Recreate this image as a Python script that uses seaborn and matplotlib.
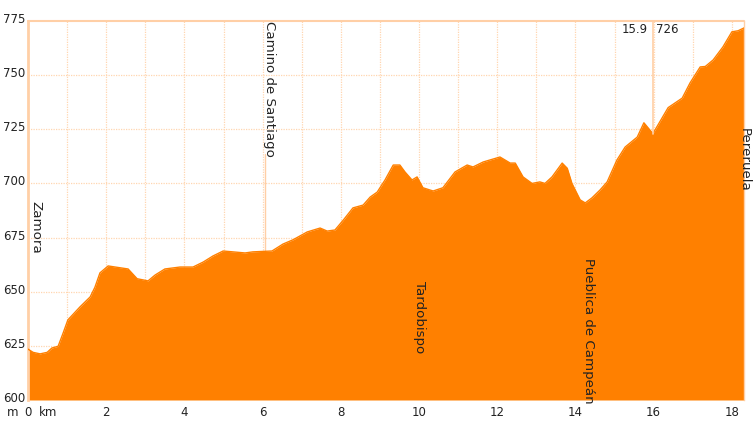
import matplotlib
matplotlib.use("Agg")
import matplotlib.pyplot as plt
import matplotlib.transforms as mtransforms
import seaborn as sns
import pandas as pd
import numpy as np

# ---- data ----
km = [0, 0.13, 0.31, 0.49, 0.61, 0.77, 0.90, 1.02, 1.33, 1.59, 1.71, 1.84, 2.05, 2.23,
      2.56, 2.79, 3.07, 3.25, 3.50, 3.89, 4.22, 4.48, 4.73, 4.99, 5.24, 5.55, 5.75,
      6.24, 6.52, 6.78, 7.14, 7.47, 7.65, 7.85, 8.06, 8.31, 8.57, 8.75, 8.93, 9.13,
      9.34, 9.51, 9.64, 9.82, 9.95, 10.10, 10.36, 10.61, 10.92, 11.23, 11.38, 11.64,
      12.07, 12.33, 12.46, 12.66, 12.89, 13.09, 13.22, 13.40, 13.66, 13.79, 13.91,
      14.12, 14.25, 14.42, 14.63, 14.81, 15.06, 15.27, 15.58, 15.75, 15.98, 16.37,
      16.73, 16.93, 17.19, 17.32, 17.52, 17.77, 18.00, 18.16, 18.31]
elev = [623.5, 622, 621.3, 622, 624, 624.8, 631, 637, 643, 647.6, 652, 658.7, 661.9, 661.4,
        660.5, 656, 655, 657.7, 660.5, 661.4, 661.4, 663.7, 666.5, 668.8, 668.4, 667.9, 668.4,
        668.8, 672, 674, 677.6, 679.4, 678, 678.5, 683, 688.7, 690, 693.7, 696, 701.6,
        708.5, 708.5, 705.3, 701.6, 703, 698, 696.5, 698, 705.3, 708.5, 707.6, 709.9,
        712.2, 709.4, 709.4, 703, 700, 700.7, 700, 703, 709.4, 707, 700,
        692.4, 691, 693.3, 697, 700.7, 710.8, 716.8, 721.4, 728, 723, 735,
        739.4, 746.4, 753.8, 754, 757, 763, 770, 770.5, 771.8]

place_names = ["Zamora", "Camino de Santiago", "Tardobispo", "Pueblica de Campeán", "Pereruela"]
place_km = [0.03, 6.0, 9.85, 14.18, 18.16]
place_label_top = [692, 775, 655, 665.5, 725.5]

cursor_km = 15.98
cursor_km_label = "15.9"
cursor_elev_label = "726"

y_ticks = [600, 625, 650, 675, 700, 725, 750, 775]
x_ticks = [0, 2, 4, 6, 8, 10, 12, 14, 16, 18]
x_tick_labels = ["0", "2", "4", "6", "8", "10", "12", "14", "16", "18"]

# ---- style ----
FILL = "#FF8000"
GRID = "#FFD6B0"
EDGE = "#FFCFA6"
TXT = "#222222"

sns.set_style("white")
plt.rcParams["font.family"] = ["DejaVu Sans"]

fig = plt.figure(figsize=(7.53, 4.22), dpi=100)
ax = fig.add_axes([28 / 753, 1 - 400 / 422, (744 - 28) / 753, (400 - 21) / 422])

df = pd.DataFrame({"km": km, "elev": elev})
ax.fill_between(df["km"], 600, df["elev"], color=FILL, linewidth=0, zorder=2)
sns.lineplot(data=df, x="km", y="elev", ax=ax, color=FILL, linewidth=1.0, zorder=3)

ax.set_xlim(0, km[-1])
ax.set_ylim(600, 775)

# grid
for k in range(1, 19):
    ax.axvline(k, color=GRID, linestyle=(0, (1, 1)), linewidth=0.9, zorder=1)
for y in y_ticks[1:-1]:
    ax.axhline(y, color=GRID, linestyle=(0, (1, 1)), linewidth=0.9, zorder=1)
ax.axhline(775, color=EDGE, linewidth=1.5, zorder=4, clip_on=False)

for s in ["top", "bottom"]:
    ax.spines[s].set_visible(False)
ax.spines["left"].set_color(EDGE)
ax.spines["left"].set_linewidth(2)
ax.spines["right"].set_color(EDGE)
ax.spines["right"].set_linewidth(1)

ax.set_yticks(y_ticks)
ax.set_yticklabels([str(v) for v in y_ticks])
ax.set_xticks(x_ticks)
ax.set_xticklabels(x_tick_labels)
ax.tick_params(axis="both", length=0, labelsize=8.5, colors=TXT, pad=2)
ax.tick_params(axis="x", pad=4)
ax.set_xlabel("")
ax.set_ylabel("")

# nudge y tick labels slightly upward, like the reference
up = mtransforms.ScaledTranslation(0, 3 / 100, fig.dpi_scale_trans)
for lab in ax.get_yticklabels():
    lab.set_transform(lab.get_transform() + up)

# m / km labels around the 0 tick
trans = mtransforms.blended_transform_factory(ax.transData, ax.transAxes)
offs = mtransforms.offset_copy(trans, fig=fig, x=-7, y=-4, units="points")
ax.text(0, 0, "m", transform=offs, ha="right", va="top", fontsize=8.5, color=TXT)
offs2 = mtransforms.offset_copy(trans, fig=fig, x=7.5, y=-4, units="points")
ax.text(0, 0, "km", transform=offs2, ha="left", va="top", fontsize=8.5, color=TXT)

# place labels
for name, k, top in zip(place_names, place_km, place_label_top):
    ax.text(k, top, name, rotation=270, ha="left", va="top", fontsize=9.6,
            color=TXT, zorder=6, clip_on=False)

# Camino de Santiago marker line (below its label)
cam_e = float(np.interp(6.05, km, elev))
ax.plot([6.05, 6.05], [cam_e, 713.5], color=EDGE, linewidth=1, zorder=1)

# cursor
cur_e = float(np.interp(cursor_km, km, elev))
ax.plot([cursor_km, cursor_km], [cur_e, 775], color=EDGE, linewidth=1.2, zorder=4)
ax.text(cursor_km - 0.12, 771, cursor_km_label, ha="right", va="center", fontsize=8.5, color=TXT, zorder=6)
ax.text(cursor_km + 0.08, 771, cursor_elev_label, ha="left", va="center", fontsize=8.5, color=TXT, zorder=6)

fig.savefig("out.png", dpi=100)
